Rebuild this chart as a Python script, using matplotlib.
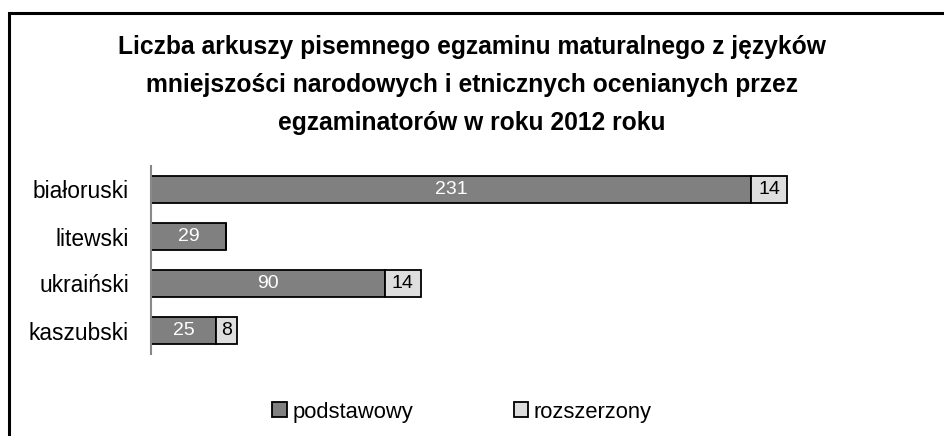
import matplotlib
matplotlib.use("Agg")
import matplotlib.pyplot as plt
from matplotlib.patches import Rectangle
import numpy as np

plt.rcParams['font.family'] = ['Liberation Sans', 'DejaVu Sans']

categories = ['białoruski', 'litewski', 'ukraiński', 'kaszubski']
podstawowy = [231, 29, 90, 25]
rozszerzony = [14, 0, 14, 8]
series_names = ['podstawowy', 'rozszerzony']
title = ('Liczba arkuszy pisemnego egzaminu maturalnego z języków\n'
         'mniejszości narodowych i etnicznych ocenianych przez\n'
         'egzaminatorów w roku 2012 roku')

W, H = 944, 436
fig = plt.figure(figsize=(W / 100, H / 100), dpi=100)

# outer chart frame (open to the right and bottom)
fig.patches.append(Rectangle((9 / W, -0.1), 1.2, (H - 13) / H + 0.1,
                             transform=fig.transFigure, fill=False,
                             edgecolor='black', linewidth=2.2))

ax = fig.add_axes([151 / W, (H - 354) / H, 727 / W, 188 / H])
y = np.arange(len(categories))
dark, light = '#808080', '#dedede'
b1 = ax.barh(y, podstawowy, height=0.56, color=dark, edgecolor='black',
             linewidth=1.3, label=series_names[0])
b2 = ax.barh(y, rozszerzony, left=podstawowy, height=0.56, color=light,
             edgecolor='black', linewidth=1.3, label=series_names[1])

for i, (p, r) in enumerate(zip(podstawowy, rozszerzony)):
    if p:
        ax.text(p / 2, i, str(p), ha='center', va='center', color='white',
                fontsize=14)
    if r:
        ax.text(p + r / 2, i, str(r), ha='center', va='center', color='black',
                fontsize=14)

ax.set_xlim(0, 280)
ax.set_ylim(3.5, -0.5)
ax.set_yticks(y)
ax.set_yticklabels(categories, fontsize=16.4)
ax.tick_params(axis='y', length=0, pad=16)
ax.set_xticks([])
for s in ['top', 'right', 'bottom']:
    ax.spines[s].set_visible(False)
ax.spines['left'].set_color('#888888')
ax.spines['left'].set_linewidth(1.5)

fig.text(0.5, (H - 85) / H, title, ha='center', va='center',
         fontsize=17.7, fontweight='bold', linespacing=1.75)

leg = fig.legend(handles=[b1, b2], labels=series_names, loc='center',
                 bbox_to_anchor=(462 / W, (H - 412) / H), ncol=2, frameon=False,
                 fontsize=15.8, handlelength=0.65, handleheight=0.65,
                 handletextpad=0.25, columnspacing=4.6)

fig.savefig('out.png', dpi=100)
